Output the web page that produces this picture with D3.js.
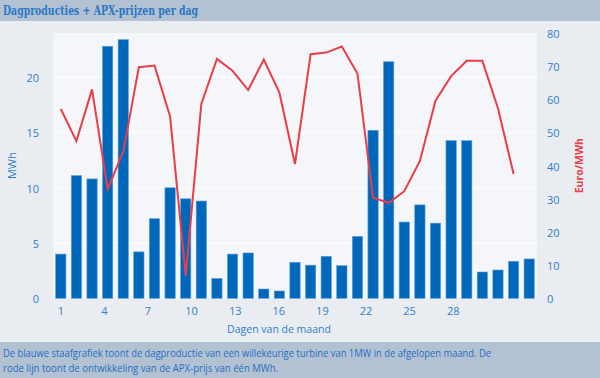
<!DOCTYPE html>
<html><head><meta charset="utf-8">
<script src="https://cdn.jsdelivr.net/npm/d3@7"></script>
<style>
html,body{margin:0;padding:0;background:#e9ecf1;}
svg{display:block;}
</style></head>
<body>
<svg id="chart" width="600" height="378"></svg>
<script>
const days = d3.range(1, 32);
const production = [4.0, 11.1, 10.8, 22.8, 23.4, 4.2, 7.2, 10.0, 9.0, 8.8, 1.8, 4.0, 4.1, 0.84, 0.66, 3.26, 3.0, 3.8, 2.95, 5.6, 15.2, 21.4, 6.9, 8.45, 6.8, 14.26, 14.26, 2.38, 2.56, 3.35, 3.56];
const prices = [57.1, 47.4, 63.0, 32.9, 44.2, 69.7, 70.2, 54.8, 6.8, 58.6, 72.2, 68.6, 62.8, 72.0, 62.0, 40.5, 73.6, 74.1, 75.9, 67.8, 30.3, 28.8, 32.3, 41.4, 59.6, 67.0, 71.6, 71.6, 57.3, 37.5];
const xTickValues = [1, 4, 7, 10, 13, 16, 19, 22, 25, 28];
const leftTicks = [0, 5, 10, 15, 20];
const rightTicks = [0, 10, 20, 30, 40, 50, 60, 70, 80];
const titleText = "Dagproducties + APX-prijzen per dag";
const footerLines = ["De blauwe staafgrafiek toont de dagproductie van een willekeurige turbine van 1MW in de afgelopen maand. De", "rode lijn toont de ontwikkeling van de APX-prijs van één MWh."];

const svg = d3.select("#chart");
const W = 600, H = 378;
const L = 53, R = 537, T = 33, B = 298.3;
const blue = "#2f7fc6";

// title bar
svg.append("rect").attr("x",0).attr("y",0).attr("width",W).attr("height",21).attr("fill","#b3c2d3");
svg.append("text").attr("x",3).attr("y",15).text(titleText)
  .attr("font-family","DejaVu Serif").attr("font-weight","bold").attr("font-size",12)
  .attr("font-stretch","condensed")
  .attr("textLength",195).attr("lengthAdjust","spacingAndGlyphs")
  .attr("fill","#2a78c2");

// footer bar
svg.append("rect").attr("x",0).attr("y",342).attr("width",W).attr("height",36).attr("fill","#b3c2d3");
const footLens = [488, 275];
svg.selectAll("text.foot").data(footerLines).join("text").attr("class","foot")
  .attr("x",3).attr("y",(d,i)=>357+i*15).text(d=>d)
  .attr("textLength",(d,i)=>footLens[i]).attr("lengthAdjust","spacingAndGlyphs")
  .attr("font-family","Open Sans").attr("font-size",10.5).attr("fill","#1f6fc0");

// plot background
svg.append("rect").attr("x",L).attr("y",T).attr("width",R-L).attr("height",B-T).attr("fill","#f4f6fa");

const xBand = d3.scaleBand().domain(days).range([L, R]).paddingInner(0.34).paddingOuter(0.17);
const xLin = d3.scaleLinear().domain([0.5, 33.8]).range([L, R]);
const yL = d3.scaleLinear().domain([0, 24]).range([B, T]);
const yR = d3.scaleLinear().domain([0, 80]).range([B, T]);

// gridlines
svg.append("g").selectAll("line").data(leftTicks.slice(1)).join("line")
  .attr("x1",L).attr("x2",R).attr("y1",d=>yL(d)).attr("y2",d=>yL(d))
  .attr("stroke","#ffffff").attr("stroke-width",1.2);

// bars
svg.append("g").selectAll("rect").data(days).join("rect")
  .attr("x",d=>xBand(d)).attr("width",xBand.bandwidth())
  .attr("y",(d,i)=>yL(production[i])).attr("height",(d,i)=>B-yL(production[i]))
  .attr("fill","#0068bb").attr("stroke","#5fa0dc").attr("stroke-width",0.6);

// line
const line = d3.line().x((d,i)=>xBand(days[i])+xBand.bandwidth()/2).y(d=>yR(d));
svg.append("path").datum(prices).attr("d",line)
  .attr("fill","none").attr("stroke","#ea3d45").attr("stroke-width",2).attr("stroke-linejoin","miter");

// axes
const xAxis = d3.axisBottom(xLin).tickValues(xTickValues).tickSize(0).tickPadding(9);
const gx = svg.append("g").attr("transform",`translate(0,${B})`).call(xAxis);
const yAxisL = d3.axisLeft(yL).tickValues(leftTicks).tickSize(0).tickPadding(14);
const gyl = svg.append("g").attr("transform",`translate(${L},0)`).call(yAxisL);
const yAxisR = d3.axisRight(yR).tickValues(rightTicks).tickSize(0).tickPadding(10);
const gyr = svg.append("g").attr("transform",`translate(${R},0)`).call(yAxisR);
[gx,gyl,gyr].forEach(g=>{
  g.select(".domain").remove();
  g.selectAll("text").attr("font-family","Open Sans").attr("font-size",11).attr("fill",blue);
});
gyr.selectAll("text").attr("dy","0.4em");
gyl.selectAll("text").attr("dy","0.4em");

// axis titles
svg.append("text").attr("x",279).attr("y",333).attr("text-anchor","middle").text("Dagen van de maand")
  .attr("font-family","Open Sans").attr("font-size",10.5).attr("fill",blue);
svg.append("text").attr("transform",`translate(16,${(T+B)/2}) rotate(-90)`).attr("text-anchor","middle").text("MWh")
  .attr("font-family","Open Sans").attr("font-size",11).attr("fill",blue);
svg.append("text").attr("transform",`translate(583,${(T+B)/2}) rotate(-90)`).attr("text-anchor","middle").text("Euro/MWh")
  .attr("font-family","Open Sans").attr("font-weight","bold").attr("font-size",10.5).attr("fill","#ea3d45");
</script>
</body></html>
